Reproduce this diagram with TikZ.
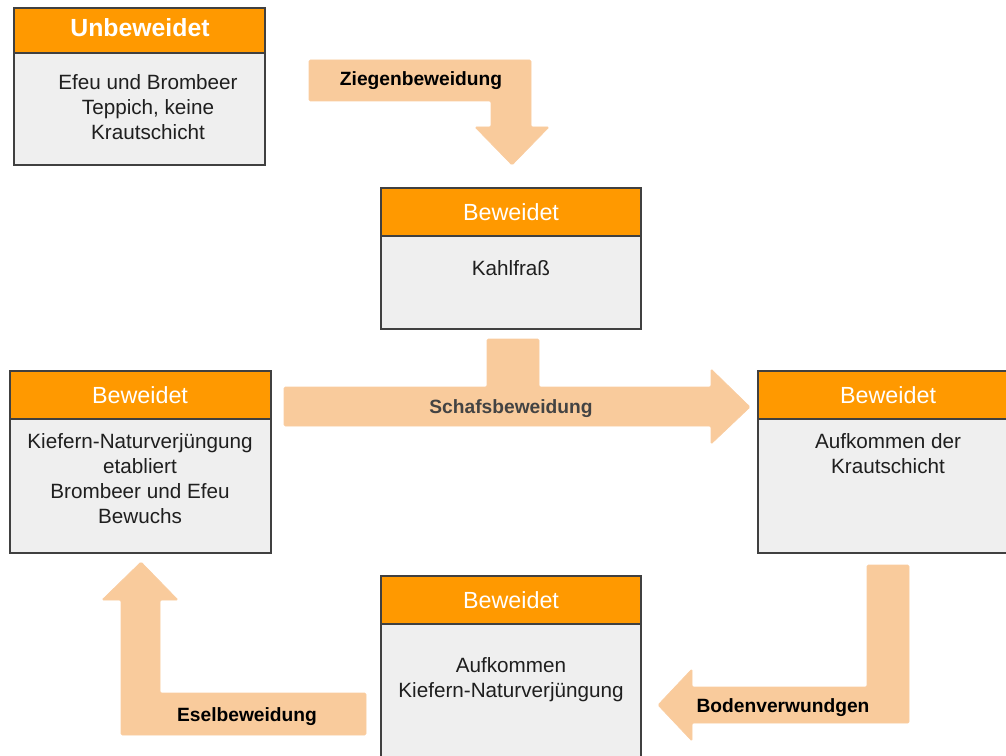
\documentclass[tikz,border=0pt]{standalone}
\usepackage{fontspec}
\setmainfont{Liberation Sans}
\definecolor{hdrc}{HTML}{FF9900}
\definecolor{bodyc}{HTML}{EFEFEF}
\definecolor{edgec}{HTML}{404040}
\definecolor{arrowc}{HTML}{F9CB9C}
\definecolor{txtc}{HTML}{1F1F1F}
\definecolor{lblc}{HTML}{434343}
\tikzset{
  hdrbox/.style={fill=hdrc, draw=edgec, line width=0.8pt},
  bodybox/.style={fill=bodyc, draw=edgec, line width=0.8pt},
  hdrtext/.style={text=white, font=\fontsize{17.5}{21}\selectfont, inner sep=0pt},
  bodytext/.style={text=txtc, font=\fontsize{15.5}{18.75}\selectfont, align=center, inner sep=0pt},
  arrowshape/.style={fill=arrowc, draw=arrowc!96!white, line width=0.6pt, rounded corners=1pt},
  arrowtext/.style={text=black, font=\bfseries\fontsize{14.4}{17}\selectfont, inner sep=0pt}
}
\begin{document}
\begin{tikzpicture}[x=0.75pt,y=-0.75pt]
\useasboundingbox (0,0) rectangle (1006,756);
\clip (0,0) rectangle (1006,756);

% Boxes
\draw[bodybox] (14,53) rectangle (265,165);
\draw[hdrbox] (14,8) rectangle (265,53);
\draw[bodybox] (381,236) rectangle (641,329);
\draw[hdrbox] (381,188) rectangle (641,236);
\draw[bodybox] (10,419) rectangle (271,553);
\draw[hdrbox] (10,371) rectangle (271,419);
\draw[bodybox] (758,419) rectangle (1018,553);
\draw[hdrbox] (758,371) rectangle (1018,419);
\draw[bodybox] (381,624) rectangle (641,780);
\draw[hdrbox] (381,576) rectangle (641,624);

% Box texts
\node[hdrtext, font=\bfseries\fontsize{18.6}{22}\selectfont] (uh) at (140,28) {Unbeweidet};
\node[bodytext] (ub) at (148,107) {Efeu und Brombeer\\Teppich, keine\\Krautschicht};
\node[hdrtext] (kh) at (511,212) {Beweidet};
\node[bodytext] (kb) at (511,268) {Kahlfraß};
\node[hdrtext] (lh) at (140,395) {Beweidet};
\node[bodytext] (lb) at (140,479) {Kiefern-Naturverjüngung\\etabliert\\Brombeer und Efeu\\Bewuchs};
\node[hdrtext] (rh) at (888,395) {Beweidet};
\node[bodytext] (rb) at (888,454) {Aufkommen der\\Krautschicht};
\node[hdrtext] (bh) at (511,600) {Beweidet};
\node[bodytext] (bb) at (511,679.5) {Aufkommen\\Kiefern-Naturverjüngung};

% Arrows
\draw[arrowshape] (309,60) -- (531,60) -- (531,127) -- (549,127) -- (512,165) -- (475,127) -- (491,127) -- (491,101) -- (309,101) -- cycle;
\draw[arrowshape] (284,387) -- (487,387) -- (487,339) -- (539,339) -- (539,387) -- (711,387) -- (711,369) -- (750,407) -- (711,444) -- (711,426) -- (284,426) -- cycle;
\draw[arrowshape] (867,565) -- (909,565) -- (909,723) -- (692,723) -- (692,741) -- (658,705) -- (692,669) -- (692,687) -- (867,687) -- cycle;
\draw[arrowshape] (366,693) -- (366,735) -- (121,735) -- (121,600) -- (102,600) -- (141,562) -- (178,600) -- (160,600) -- (160,693) -- cycle;

% Arrow labels
\node[arrowtext] (zl) at (421,81) {Ziegenbeweidung};
\node[arrowtext, text=lblc] (sl) at (511,409) {Schafsbeweidung};
\node[arrowtext] (bl) at (783,708) {Bodenverwundgen};
\node[arrowtext] (el) at (247,717) {Eselbeweidung};
\end{tikzpicture}
\end{document}
